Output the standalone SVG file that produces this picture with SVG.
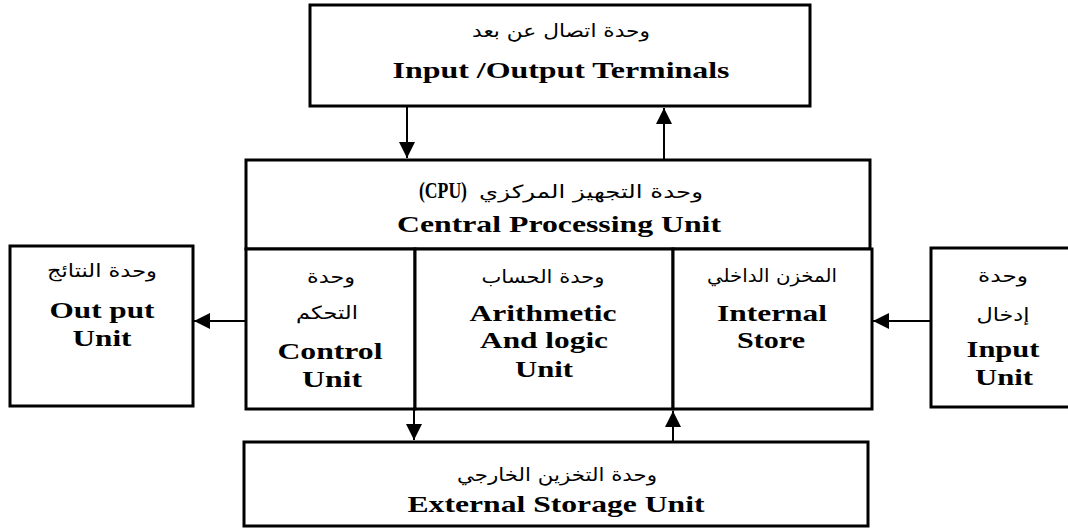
<svg xmlns="http://www.w3.org/2000/svg" width="1068" height="528" viewBox="0 0 1068 528">
<style>
.box{fill:#fff;stroke:#000;stroke-width:3}
.en{font-family:"Liberation Serif","Times New Roman",serif;font-weight:bold;font-size:24px;fill:#000;text-anchor:middle}
.ar{font-family:"DejaVu Sans","Noto Sans",sans-serif;font-size:18px;fill:#000;text-anchor:middle}
.cn{stroke:#000;stroke-width:2;fill:none;marker-end:url(#ah)}
</style>
<defs>
<marker id="ah" markerUnits="userSpaceOnUse" markerWidth="18" markerHeight="16" viewBox="0 0 18 16" refX="16" refY="8" orient="auto">
<path d="M0,0 L16,8 L0,16 Z" fill="#000"/>
</marker>
</defs>
<rect width="1068" height="528" fill="#fff"/>
<g id="terminals">
<rect class="box" x="310" y="5" width="500" height="101"/>
<text class="ar" x="561" y="37" direction="rtl" textLength="178" lengthAdjust="spacingAndGlyphs">وحدة اتصال عن بعد</text>
<text class="en" x="561" y="78" textLength="337" lengthAdjust="spacingAndGlyphs">Input /Output Terminals</text>
</g>
<g id="cpu">
<rect class="box" x="246" y="160" width="624" height="89"/>
<text class="en" x="443" y="198" font-size="22" textLength="48" lengthAdjust="spacingAndGlyphs">(CPU)</text>
<text class="ar" x="591" y="198" direction="rtl" textLength="224" lengthAdjust="spacingAndGlyphs">وحدة التجهيز المركزي</text>
<text class="en" x="559" y="232" textLength="324" lengthAdjust="spacingAndGlyphs">Central Processing Unit</text>
</g>
<g id="control">
<rect class="box" x="246" y="249" width="169" height="160"/>
<text class="ar" x="331" y="283" direction="rtl" textLength="48" lengthAdjust="spacingAndGlyphs">وحدة</text>
<text class="ar" x="327" y="319" direction="rtl" textLength="62" lengthAdjust="spacingAndGlyphs">التحكم</text>
<text class="en" x="330" y="359" textLength="105" lengthAdjust="spacingAndGlyphs">Control</text>
<text class="en" x="332" y="387" textLength="60" lengthAdjust="spacingAndGlyphs">Unit</text>
</g>
<g id="alu">
<rect class="box" x="415" y="249" width="258" height="160"/>
<text class="ar" x="543" y="283" direction="rtl" textLength="123" lengthAdjust="spacingAndGlyphs">وحدة الحساب</text>
<text class="en" x="543" y="321" textLength="147" lengthAdjust="spacingAndGlyphs">Arithmetic</text>
<text class="en" x="544" y="348" textLength="128" lengthAdjust="spacingAndGlyphs">And logic</text>
<text class="en" x="544" y="377" textLength="58" lengthAdjust="spacingAndGlyphs">Unit</text>
</g>
<g id="internal">
<rect class="box" x="673" y="249" width="199" height="160"/>
<text class="ar" x="772" y="282" direction="rtl" textLength="130" lengthAdjust="spacingAndGlyphs">المخزن الداخلي</text>
<text class="en" x="772" y="321" textLength="110" lengthAdjust="spacingAndGlyphs">Internal</text>
<text class="en" x="771" y="348" textLength="68" lengthAdjust="spacingAndGlyphs">Store</text>
</g>
<g id="output">
<rect class="box" x="10" y="246" width="183" height="160"/>
<text class="ar" x="102" y="277" direction="rtl" textLength="110" lengthAdjust="spacingAndGlyphs">وحدة النتائج</text>
<text class="en" x="102" y="318" textLength="105" lengthAdjust="spacingAndGlyphs">Out put</text>
<text class="en" x="102" y="346" textLength="59" lengthAdjust="spacingAndGlyphs">Unit</text>
</g>
<g id="input">
<rect class="box" x="931" y="248" width="145" height="159"/>
<text class="ar" x="1003" y="282" direction="rtl" textLength="50" lengthAdjust="spacingAndGlyphs">وحدة</text>
<text class="ar" x="1003" y="321" direction="rtl" textLength="53" lengthAdjust="spacingAndGlyphs">إدخال</text>
<text class="en" x="1003" y="357" textLength="73" lengthAdjust="spacingAndGlyphs">Input</text>
<text class="en" x="1004" y="385" textLength="58" lengthAdjust="spacingAndGlyphs">Unit</text>
</g>
<g id="external">
<rect class="box" x="244" y="442" width="624" height="84"/>
<text class="ar" x="557" y="481" direction="rtl" textLength="200" lengthAdjust="spacingAndGlyphs">وحدة التخزين الخارجي</text>
<text class="en" x="556" y="512" textLength="297" lengthAdjust="spacingAndGlyphs">External Storage Unit</text>
</g>
<g id="connectors">
<line class="cn" x1="407" y1="107" x2="407" y2="158"/>
<line class="cn" x1="664" y1="159" x2="664" y2="108"/>
<line class="cn" x1="245" y1="321" x2="194" y2="321"/>
<line class="cn" x1="931" y1="321" x2="873" y2="321"/>
<line class="cn" x1="414" y1="410" x2="414" y2="440"/>
<line class="cn" x1="673" y1="441" x2="673" y2="411"/>
</g>
</svg>
